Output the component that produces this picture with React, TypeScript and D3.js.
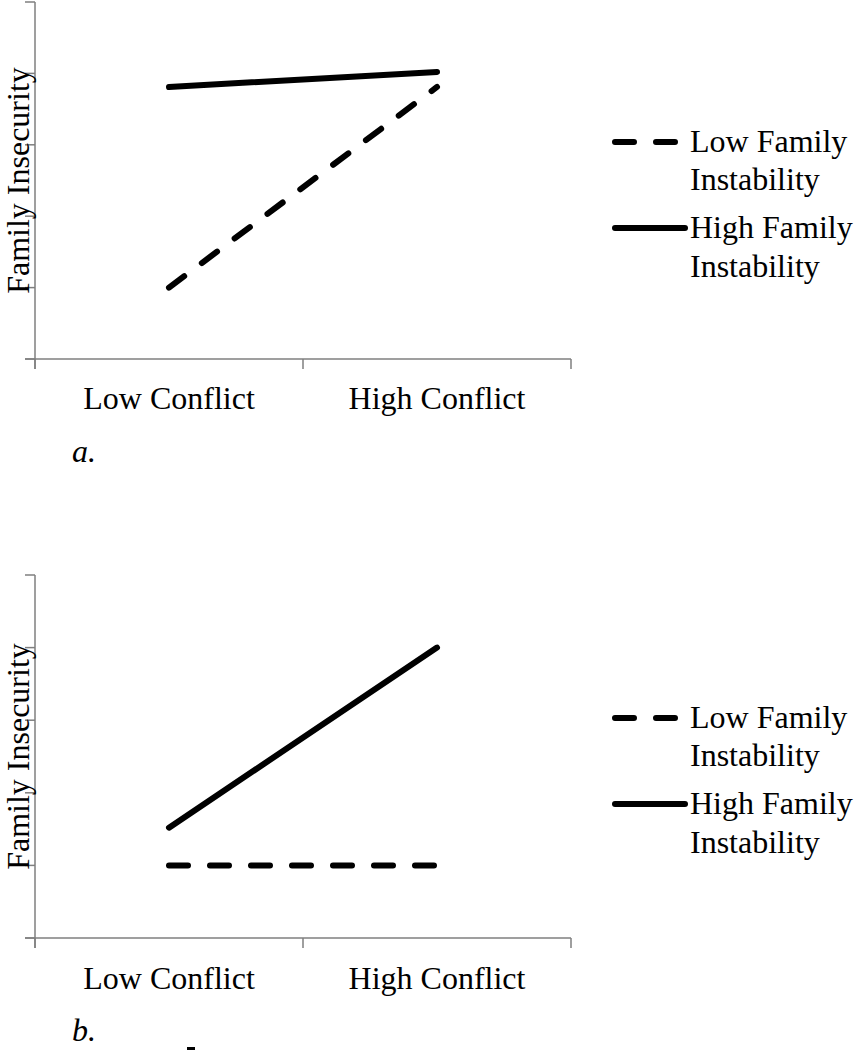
import React from "react";
import * as d3 from "d3";

const categories = ["Low Conflict", "High Conflict"];
const seriesNames = ["Low Family Instability", "High Family Instability"];
const panelALow = [1.0, 3.81];
const panelAHigh = [3.81, 4.02];
const panelBLow = [1.0, 1.0];
const panelBHigh = [1.52, 4.0];
const yTicks = [0, 1, 2, 3, 4, 5];
const panelLabels = ["a.", "b."];

const FONT = "Liberation Serif, Tinos, Times New Roman, serif";
const AXIS = "#7f7f7f";
const txt = { fontFamily: FONT, fontSize: 32, fill: "#000" } as React.CSSProperties;

type PanelProps = {
  top: number;
  bottom: number;
  low: number[];
  high: number[];
  label: string;
  labelY: number;
  catY: number;
  legendY: number;
};

function Panel({ top, bottom, low, high, label, labelY, catY, legendY }: PanelProps) {
  const x = d3.scaleBand<string>().domain(categories).range([35, 571]).padding(0);
  const y = d3.scaleLinear().domain([0, 5]).range([bottom, top]);
  const line = d3
    .line<number>()
    .x((_, i) => (x(categories[i]) as number) + x.bandwidth() / 2)
    .y((d) => y(d));
  const x0 = 35;
  const xEnd = 571;
  return (
    <g>
      <line x1={x0} x2={x0} y1={y(5)} y2={bottom + 10} stroke={AXIS} strokeWidth={1.5} />
      {yTicks.map((t) => (
        <line key={t} x1={x0 - 10} x2={x0} y1={y(t)} y2={y(t)} stroke={AXIS} strokeWidth={1.5} />
      ))}
      <line x1={x0 - 10} x2={xEnd} y1={bottom} y2={bottom} stroke={AXIS} strokeWidth={1.5} />
      {[...categories.map((c) => x(c) as number), xEnd].map((p, i) => (
        <line key={i} x1={p} x2={p} y1={bottom} y2={bottom + 10} stroke={AXIS} strokeWidth={1.5} />
      ))}
      {categories.map((c) => (
        <text key={c} x={(x(c) as number) + x.bandwidth() / 2} y={catY} textAnchor="middle" style={txt}>
          {c}
        </text>
      ))}
      <text transform={`translate(29,${(top + bottom) / 2}) rotate(-90)`} textAnchor="middle" style={txt}>
        Family Insecurity
      </text>
      <path d={line(low) || ""} fill="none" stroke="#000" strokeWidth={6} strokeLinecap="round" strokeDasharray="19 22" />
      <path d={line(high) || ""} fill="none" stroke="#000" strokeWidth={6} strokeLinecap="round" />
      <line x1={615} x2={682} y1={legendY} y2={legendY} stroke="#000" strokeWidth={6} strokeLinecap="round" strokeDasharray="19 22" />
      <text x={690} y={legendY + 10} style={txt}>Low Family</text>
      <text x={690} y={legendY + 48} style={txt}>Instability</text>
      <line x1={615} x2={685} y1={legendY + 86} y2={legendY + 86} stroke="#000" strokeWidth={6} strokeLinecap="round" />
      <text x={690} y={legendY + 96} style={txt}>High Family</text>
      <text x={690} y={legendY + 135} style={txt}>Instability</text>
      <text x={72} y={labelY} style={{ ...txt, fontStyle: "italic" }}>
        {label}
      </text>
    </g>
  );
}

export default function App() {
  return (
    <svg width={855} height={1050} style={{ position: "absolute", left: 0, top: 0, background: "#fff" }}>
      <rect width={855} height={1050} fill="#fff" />
      <Panel top={2} bottom={359} low={panelALow} high={panelAHigh} label={panelLabels[0]} labelY={462} catY={409} legendY={142} />
      <Panel top={575} bottom={938} low={panelBLow} high={panelBHigh} label={panelLabels[1]} labelY={1041} catY={989} legendY={718} />
      <rect x={187} y={1047} width={8} height={3} fill="#000" />
    </svg>
  );
}
